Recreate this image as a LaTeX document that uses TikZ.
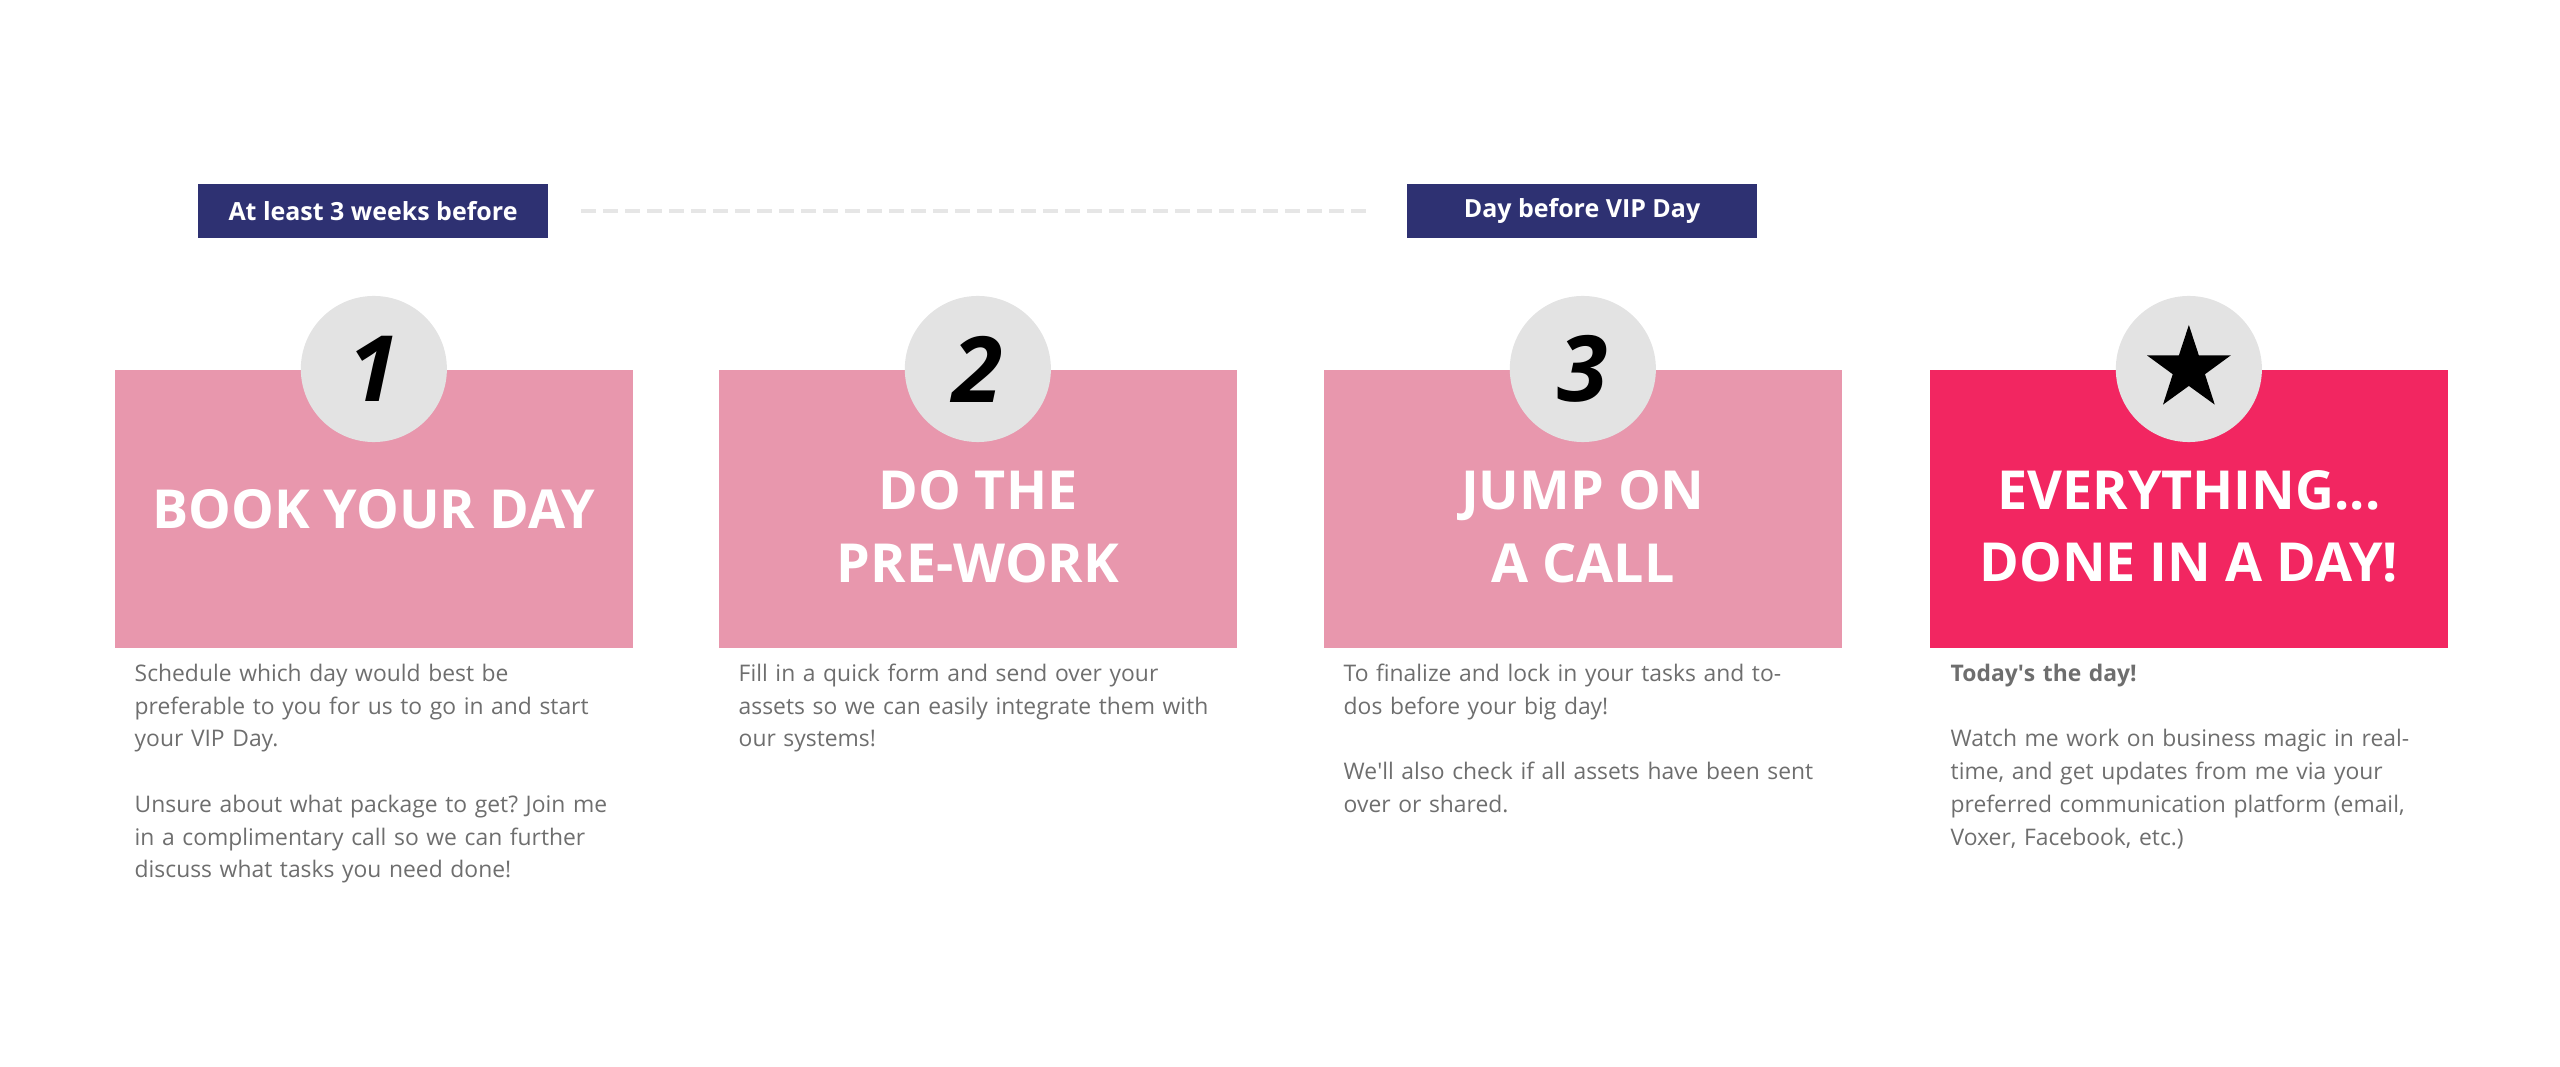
\documentclass[tikz,border=0pt]{standalone}
\usepackage{fontspec}
\setmainfont{Open Sans}
\usetikzlibrary{positioning, shapes.geometric}

\definecolor{rosebox}{HTML}{E897AD}
\definecolor{hotpink}{HTML}{F22661}
\definecolor{navytag}{HTML}{2E3172}
\definecolor{circgray}{HTML}{E3E3E3}
\definecolor{bodygray}{HTML}{6E6E6E}
\definecolor{dashgray}{HTML}{E6E6E6}
\frenchspacing

\begin{document}
\begin{tikzpicture}[x=0.01cm, y=-0.01cm]

  \tikzset{
    stepbox/.style = {fill=rosebox, minimum width=5.18cm, minimum height=2.78cm,
      inner sep=0, anchor=north west},
    numcirc/.style = {circle, fill=circgray, minimum size=1.46cm, inner sep=0,
      font=\fontsize{26}{26}\selectfont\bfseries\itshape},
    heading/.style = {text=white, align=center,
      font=\fontsize{15.3}{20.5}\selectfont\bfseries},
    tag/.style = {fill=navytag, text=white, minimum width=3.5cm,
      minimum height=0.53cm, inner sep=0, font=\fontsize{7.1}{8}\selectfont\bfseries},
    body/.style = {text=bodygray, align=left, anchor=base west, inner sep=0,
      text width=5cm, font=\fontsize{6.5}{9.3}\selectfont},
  }

  \useasboundingbox (0,0) rectangle (2560,1067);

  % timing tags
  \node[tag] (when1) at (373,211) {At least 3 weeks before};
  \node[tag] (when2) at (1582,211) {Day before VIP Day};
  \draw[dashgray, line width=0.04cm, dash pattern=on 0.15cm off 0.07cm,
    shorten <=0.32cm, shorten >=0.33cm] (when1) -- (when2);

  % the four steps
  \node[stepbox] (box1) at (114,369) {};
  \node[stepbox] (box2) at (718,369) {};
  \node[stepbox] (box3) at (1323,369) {};
  \node[stepbox, fill=hotpink] (box4) at (1929,369) {};

  \node[numcirc] (num1) at (box1.north) {1};
  \node[numcirc] (num2) at (box2.north) {2};
  \node[numcirc] (num3) at (box3.north) {3};
  \node[numcirc] (num4) at (box4.north) {};
  \node[star, star points=5, star point ratio=2.6, fill=black,
    minimum size=0.88cm, inner sep=0] (star) at (num4) {};

  \node[heading] (title1) at (box1.center) {BOOK YOUR DAY};
  \node[heading, yshift=-0.18cm] (title2) at (box2.center) {DO THE\\PRE-WORK};
  \node[heading, yshift=-0.18cm] (title3) at (box3.center) {JUMP ON\\A CALL};
  \node[heading, yshift=-0.18cm] (title4) at (box4.center) {EVERYTHING...\\DONE IN A DAY!};

  % descriptions
  \node[body] (text1) at ([shift={(20,33)}]box1.south west)
    {Schedule which day would best be\\
     preferable to you for us to go in and start\\
     your VIP Day.\\[0.327cm]
     Unsure about what package to get? Join me\\
     in a complimentary call so we can further\\
     discuss what tasks you need done!};
  \node[body] (text2) at ([shift={(20,33)}]box2.south west)
    {Fill in a quick form and send over your\\
     assets so we can easily integrate them with\\
     our systems!};
  \node[body] (text3) at ([shift={(20,33)}]box3.south west)
    {To finalize and lock in your tasks and to-\\
     dos before your big day!\\[0.327cm]
     We\textquotesingle ll also check if all assets have been sent\\
     over or shared.};
  \node[body] (text4) at ([shift={(21,33)}]box4.south west)
    {\textbf{Today\textquotesingle s the day!}\\[0.327cm]
     Watch me work on business magic in real-\\
     time, and get updates from me via your\\
     preferred communication platform (email,\\
     Voxer, Facebook, etc.)};

\end{tikzpicture}
\end{document}
